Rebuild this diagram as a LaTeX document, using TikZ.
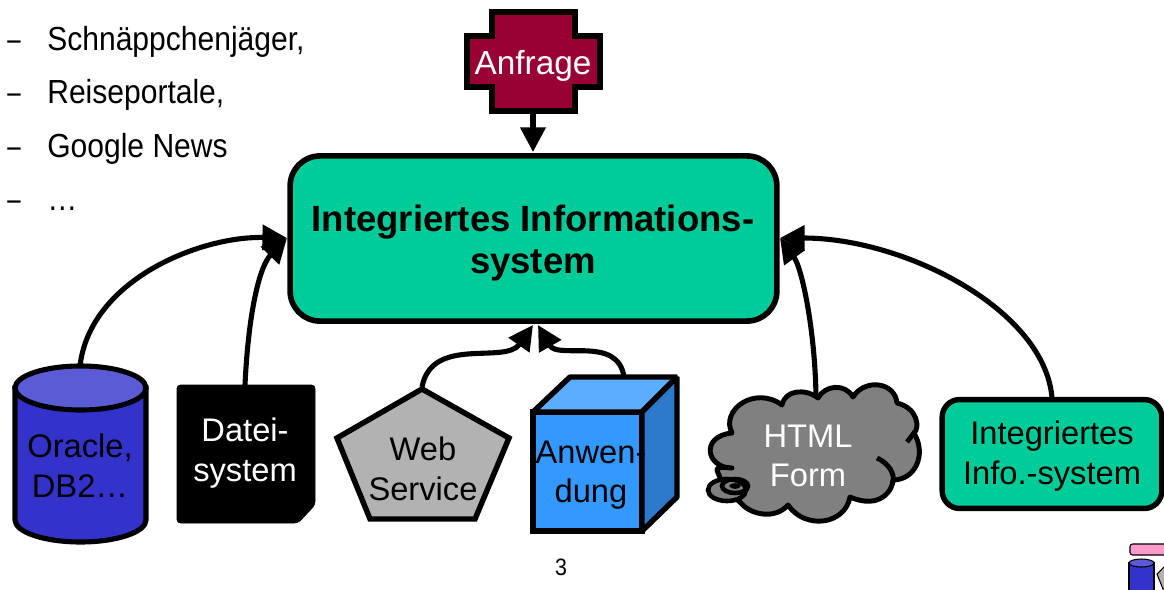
\documentclass[tikz,border=0pt]{standalone}
\usepackage{fontspec}
\setmainfont{Liberation Sans}
\usetikzlibrary{arrows.meta}
\definecolor{isysgreen}{HTML}{00CC99}
\definecolor{dbblue}{HTML}{3333CC}
\definecolor{dbtop}{HTML}{5B5BD6}
\definecolor{appblue}{HTML}{3399FF}
\definecolor{apptop}{HTML}{5CADFF}
\definecolor{appside}{HTML}{2B7ACC}
\definecolor{queryred}{HTML}{990033}
\definecolor{logopink}{HTML}{FF99CC}
\begin{document}
\begin{tikzpicture}[x=0.02cm, y=-0.02cm,
                    label_style/.style={font=\fontsize{18.6pt}{22.6pt}\selectfont, align=center, inner sep=0pt},
                    list_style/.style={font=\fontsize{19pt}{22pt}\selectfont, anchor=base west, inner sep=0pt, xscale=0.9},
                    shape_style/.style={draw=black, line width=3.1pt, line join=miter},
                    link_style/.style={draw=black, line width=2.9pt, -{Triangle[width=14pt, length=14pt]}}]
                    \clip (0,0) rectangle (1164,589);

                    \node[list_style, xscale=0.8] (dash1) at (7,50) {–};
                    \node[list_style, xscale=0.8] (dash2) at (7,103) {–};
                    \node[list_style, xscale=0.8] (dash3) at (7,157) {–};
                    \node[list_style, xscale=0.8] (dash4) at (7,210) {–};
                    \node[list_style] (item1) at (47,50) {Schnäppchenjäger,};
                    \node[list_style] (item2) at (47,103) {Reiseportale,};
                    \node[list_style] (item3) at (47,157) {Google News};
                    \node[list_style] (item4) at (47,210) {…};

                    \draw[shape_style, fill=queryred] (492,12) -- (575,12) -- (575,36) -- (600,36) -- (600,87)
                        -- (575,87) -- (575,111) -- (492,111) -- (492,87) -- (467,87) -- (467,36) -- (492,36) -- cycle;
                    \node[label_style, font=\fontsize{19pt}{22pt}\selectfont, text=white] (query) at (533,66) {Anfrage};
                    \coordinate (query_out) at (533,111);

                    \node[shape_style, line width=3.2pt, fill=isysgreen, rounded corners=17pt, minimum width=277pt, minimum height=94pt, inner sep=0pt] (isys) at (533.5,238.5) {};
                    \node[label_style, font=\fontsize{20.8pt}{24pt}\selectfont\bfseries] (isys_label) at (533,243) {Integriertes Informations-\\system};
                    \coordinate (isys_top) at (533,152);
                    \coordinate (isys_left) at (287,238);
                    \coordinate (isys_right) at (780,238);
                    \coordinate (isys_low) at (533,325);
                    \coordinate (isys_low2) at (538,325);

                    \draw[shape_style, line width=2.9pt, fill=dbblue] (15,388) -- (15,520) arc[start angle=180, end angle=0, x radius=65.5, y radius=22] -- (146,388) -- cycle;
                    \draw[shape_style, line width=2.9pt, fill=dbtop] (80.5,388) ellipse [x radius=65.5, y radius=22];
                    \node[label_style] (db) at (80,466) {Oracle,\\DB2…};
                    \coordinate (db_top) at (80,366);

                    \draw[fill=black, rounded corners=2pt] (177,385) -- (315,385) -- (315,505) -- (298,523) -- (177,523) -- cycle;
                    \node[label_style, text=white] (fs) at (245,453) {Datei-\\system};
                    \coordinate (fs_top) at (245,385);

                    \draw[shape_style, fill=black!30] (422,389) -- (509,438) -- (475,519) -- (370,519) -- (337,438) -- cycle;
                    \node[label_style] (ws) at (423,469) {Web\\Service};
                    \coordinate (ws_top) at (422,387);

                    \draw[shape_style, fill=appblue] (533,412) rectangle (642,531);
                    \draw[shape_style, fill=apptop, miter limit=1] (533,412) -- (570,377) -- (677,377) -- (642,412) -- cycle;
                    \draw[shape_style, fill=appside, miter limit=1] (642,412) -- (677,377) -- (677,497) -- (642,531) -- cycle;
                    \node[label_style] (app) at (591,475) {Anwen-\\dung};
                    \coordinate (app_top) at (624,377);

                    \draw[shape_style, line width=2.8pt, fill=black!50, line join=round] (717,470) .. controls (716,467) and (724,467) .. (732,468)
                        .. controls (706,468) and (700,436) .. (732,433) .. controls (720,410) and (755,385) .. (782,405)
                        .. controls (785,390) and (805,388) .. (818,398) .. controls (825,385) and (845,383) .. (853,397)
                        .. controls (865,378) and (895,382) .. (897,403) .. controls (918,408) and (920,428) .. (914,433)
                        .. controls (927,455) and (915,480) .. (893,480) .. controls (893,490) and (880,510) .. (850,497)
                        .. controls (845,525) and (805,530) .. (788,505) .. controls (775,520) and (750,515) .. (740,502)
                        .. controls (730,495) and (722,485) .. (717,470) -- cycle;
                    \draw[draw=black, line width=2.8pt] (877,458) .. controls (888,463) and (895,473) .. (893,482);
                    \draw[draw=black, line width=2.8pt] (914,433) -- (907,442);
                    \draw[draw=black, line width=2.6pt, fill=black!50] (727,490) ellipse [x radius=19, y radius=11];
                    \draw[draw=black, line width=2.6pt] (735,486) ellipse [x radius=13, y radius=7];
                    \draw[draw=black, line width=1.5pt] (735,486) ellipse [x radius=4, y radius=1.5];
                    \node[label_style, text=white] (form) at (808,456) {HTML\\Form};
                    \coordinate (form_top) at (816,396);

                    \node[shape_style, fill=isysgreen, rounded corners=10pt, minimum width=125pt, minimum height=62pt, inner sep=0pt] (sub) at (1052,454) {};
                    \node[label_style] (sub_label) at (1052,456) {Integriertes\\Info.-system};
                    \coordinate (sub_top) at (1052,398);

                    \draw[link_style] (query_out) -- (isys_top);
                    \draw[link_style] (db_top) .. controls (90,280) and (200,236) .. (isys_left);
                    \draw[link_style] (fs_top) .. controls (248,320) and (258,268) .. (isys_left);
                    \draw[link_style] (ws_top) .. controls (432,335) and (505,365) .. (isys_low);
                    \draw[link_style] (app_top) .. controls (618,335) and (558,360) .. (isys_low2);
                    \draw[link_style] (form_top) .. controls (815,330) and (802,268) .. (isys_right);
                    \draw[link_style] (sub_top) .. controls (1045,310) and (905,238) .. (isys_right);

                    \node[font=\fontsize{13.5pt}{16pt}\selectfont, inner sep=0pt, xscale=0.9] (page) at (561,567) {3};

                    \draw[draw=black, line width=0.6pt, fill=logopink, rounded corners=1.5pt] (1130,544) rectangle (1170,555);
                    \draw[draw=black, line width=0.6pt, fill=dbblue] (1129,563) -- (1129,592) -- (1154,592) -- (1154,563) -- cycle;
                    \draw[draw=black, line width=0.6pt, fill=dbtop] (1141.5,563) ellipse [x radius=12.5, y radius=4];
                    \draw[draw=black, line width=0.6pt, fill=black!30] (1168,563) -- (1157,574) -- (1163,589) -- (1175,589) -- cycle;
                \end{tikzpicture}
\end{document}
